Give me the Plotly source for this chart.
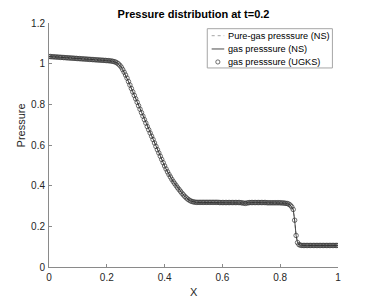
import numpy as np
import plotly.graph_objects as go

# grid of cell positions (201 points, spacing 0.005)
x_grid = np.linspace(0.0, 1.0, 201)

# pressure values
p_ugks = [
    1.035, 1.035, 1.034, 1.034, 1.033, 1.033, 1.032, 1.032, 1.031, 1.031,
    1.030, 1.030, 1.029, 1.029, 1.028, 1.028, 1.027, 1.027, 1.026, 1.026,
    1.025, 1.025, 1.024, 1.024, 1.023, 1.023, 1.022, 1.022, 1.021, 1.021,
    1.020, 1.020, 1.019, 1.019, 1.018, 1.018, 1.017, 1.017, 1.016, 1.016,
    1.015, 1.015, 1.014,
    1.013, 1.012, 1.010, 1.008, 1.004, 0.999, 0.992, 0.983, 0.971, 0.958,
    0.944, 0.929, 0.912, 0.895, 0.878, 0.861, 0.844, 0.827, 0.810, 0.793,
    0.776, 0.759, 0.742, 0.725, 0.708, 0.691, 0.675, 0.659, 0.643, 0.627,
    0.610, 0.593, 0.577, 0.561, 0.545, 0.529, 0.513, 0.497, 0.482, 0.468,
    0.455, 0.443, 0.431, 0.420, 0.410, 0.400, 0.390, 0.381, 0.372, 0.363,
    0.355, 0.347, 0.340, 0.334, 0.329, 0.325, 0.322, 0.320, 0.319, 0.318,
    0.318, 0.318, 0.318, 0.318, 0.318, 0.318, 0.318, 0.318, 0.318, 0.318,
    0.318, 0.318, 0.318, 0.318, 0.318, 0.317, 0.317, 0.317, 0.317, 0.317,
    0.317, 0.317, 0.317, 0.317, 0.317, 0.317, 0.317, 0.317, 0.317, 0.317,
    0.316, 0.315, 0.314, 0.313, 0.315, 0.316, 0.317, 0.317, 0.317, 0.317,
    0.317, 0.317, 0.317, 0.317, 0.317, 0.317, 0.317, 0.317, 0.316, 0.316,
    0.316, 0.316, 0.316, 0.316, 0.316, 0.316, 0.316, 0.316, 0.315, 0.315,
    0.314,
    0.313, 0.312, 0.309, 0.304, 0.296, 0.283, 0.230, 0.155, 0.120, 0.110,
    0.107,
    0.106, 0.106, 0.106, 0.106, 0.106, 0.106, 0.106, 0.106, 0.106, 0.106,
    0.106, 0.106, 0.106, 0.106, 0.106, 0.106, 0.106, 0.106, 0.106, 0.106,
    0.106, 0.106, 0.106, 0.106, 0.106, 0.106,
]
p_pure_ns = list(p_ugks)
p_gas_ns = list(p_ugks)

series_names = ["Pure-gas presssure (NS)", "gas presssure (NS)", "gas presssure (UGKS)"]
x_ticks = [0, 0.2, 0.4, 0.6, 0.8, 1]
x_tick_labels = ["0", "0.2", "0.4", "0.6", "0.8", "1"]
y_ticks = [0, 0.2, 0.4, 0.6, 0.8, 1, 1.2]
y_tick_labels = ["0", "0.2", "0.4", "0.6", "0.8", "1", "1.2"]

FONT = "Liberation Sans, Arial, Helvetica, sans-serif"
AX = "#262626"
C_DOT = "#8c8c8c"
C_LINE = "#1a1a1a"
C_MARK = "#333333"

fig = go.Figure()
fig.add_trace(go.Scatter(x=x_grid, y=p_pure_ns, mode="lines", name=series_names[0],
                         showlegend=False,
                         line=dict(color=C_DOT, width=0.8, dash="dot")))
fig.add_trace(go.Scatter(x=x_grid, y=p_gas_ns, mode="lines", name=series_names[1],
                         showlegend=False,
                         line=dict(color=C_LINE, width=0.8)))
fig.add_trace(go.Scatter(x=x_grid, y=p_ugks, mode="markers", name=series_names[2],
                         showlegend=False,
                         marker=dict(symbol="circle-open", size=4.5, color=C_MARK,
                                     line=dict(width=0.7, color=C_MARK))))

# page body has an 8px default margin; compensate so the picture lands at window coords
OFF = 8
W, H = 374 - OFF, 301 - OFF
# plot-area edges in window pixels
PL, PR, PT, PB = 48.7, 338.3, 23.3, 267.5
L, R, T, B = PL - OFF, PR - OFF, PT - OFF, PB - OFF


def px(xw):
    return (xw - PL) / (PR - PL)


def py(yw):
    return (PB - yw) / (PB - PT)


fig.update_layout(
    width=W, height=H,
    margin=dict(l=L, r=W - R, t=T, b=H - B, autoexpand=False),
    paper_bgcolor="white", plot_bgcolor="white",
    font=dict(family=FONT, size=10, color=AX),
    showlegend=False,
    title=dict(text="<b>Pressure distribution at t=0.2</b>", x=(L + R) / 2 / W,
               xanchor="center", y=1 - (14.5 - OFF) / H, yanchor="middle",
               font=dict(size=11, color="#000000", family=FONT)),
)
fig.update_xaxes(range=[0, 1], tickvals=x_ticks, ticktext=x_tick_labels,
                 showline=True, linecolor="#8a8a8a", linewidth=1, mirror=False,
                 ticks="inside", ticklen=3, tickcolor="#8a8a8a", showgrid=False,
                 zeroline=False, tickfont=dict(size=10, color=AX), ticklabelstandoff=1)
fig.update_yaxes(range=[0, 1.2], tickvals=y_ticks, ticktext=y_tick_labels,
                 showline=True, linecolor="#8a8a8a", linewidth=1, mirror=False,
                 ticks="inside", ticklen=3, tickcolor="#8a8a8a", showgrid=False,
                 zeroline=False, tickfont=dict(size=10, color=AX), ticklabelstandoff=1)

# axis titles
fig.add_annotation(text="X", xref="paper", yref="paper", x=0.5, y=0,
                   yshift=-(292.7 - PB), showarrow=False, yanchor="middle",
                   font=dict(size=11, color=AX, family=FONT))
fig.add_annotation(text="Pressure", xref="paper", yref="paper", x=0,
                   y=py(126), xshift=-(PL - 20.5), showarrow=False, textangle=-90,
                   xanchor="center", yanchor="middle",
                   font=dict(size=11, color=AX, family=FONT))

# compact legend box (MATLAB style)
LX0, LX1, LY0, LY1 = 207.3, 332.7, 29.0, 68.3
rows_y = [36.0, 49.3, 62.3]
fig.add_shape(type="rect", xref="paper", yref="paper",
              x0=px(LX0), x1=px(LX1), y0=py(LY1), y1=py(LY0),
              line=dict(color="#a6a6a6", width=1), fillcolor="white", layer="above")
fig.add_shape(type="line", xref="paper", yref="paper",
              x0=px(211.7), x1=px(224.3), y0=py(rows_y[0]), y1=py(rows_y[0]),
              line=dict(color=C_DOT, width=0.8, dash="dot"), layer="above")
fig.add_shape(type="line", xref="paper", yref="paper",
              x0=px(211.7), x1=px(224.3), y0=py(rows_y[1]), y1=py(rows_y[1]),
              line=dict(color=C_LINE, width=0.8), layer="above")
fig.add_shape(type="circle", xref="paper", yref="paper",
              x0=px(217.9 - 2.1), x1=px(217.9 + 2.1),
              y0=py(rows_y[2] + 2.1), y1=py(rows_y[2] - 2.1),
              line=dict(color=C_MARK, width=0.7), layer="above")
for name, ry in zip(series_names, rows_y):
    fig.add_annotation(text=name, xref="paper", yref="paper", x=px(226.2), y=py(ry),
                       xanchor="left", yanchor="middle", showarrow=False,
                       font=dict(size=9.2, color="#000000", family=FONT))

fig.write_html("out.html")
